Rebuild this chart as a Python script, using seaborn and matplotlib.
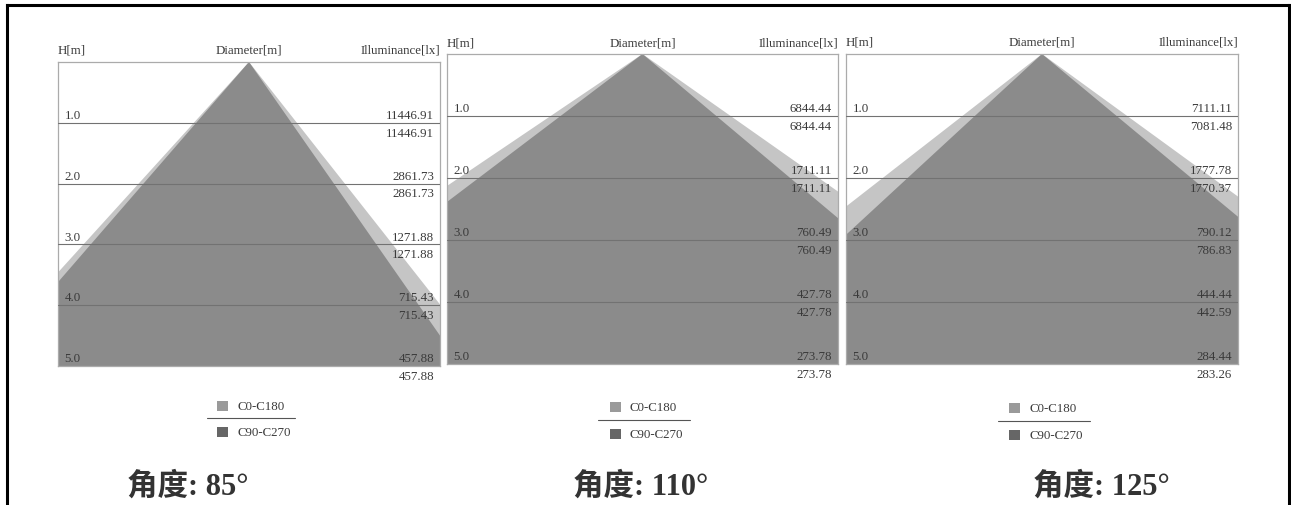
import matplotlib
matplotlib.use("Agg")
import matplotlib.pyplot as plt
from matplotlib.patches import Rectangle
from matplotlib.lines import Line2D
import numpy as np
import pandas as pd
import seaborn as sns

# ---------------- data ----------------
angles = [85, 110, 125]
heights = [1.0, 2.0, 3.0, 4.0, 5.0]
height_labels = ["1.0", "2.0", "3.0", "4.0", "5.0"]
lux_c0_c180 = [
    [11446.91, 2861.73, 1271.88, 715.43, 457.88],
    [6844.44, 1711.11, 760.49, 427.78, 273.78],
    [7111.11, 1777.78, 790.12, 444.44, 284.44],
]
lux_c90_c270 = [
    [11446.91, 2861.73, 1271.88, 715.43, 457.88],
    [6844.44, 1711.11, 760.49, 427.78, 273.78],
    [7081.48, 1770.37, 786.83, 442.59, 283.26],
]
# half-diameter per metre of height (left side, right side), read from the cones
spread_c0_c180 = [(0.91, 0.79), (1.48, 1.42), (1.28, 1.37)]
spread_c90_c270 = [(0.87, 0.70), (1.32, 1.19), (1.08, 1.20)]
series_names = ["C0-C180", "C90-C270"]

# ---------------- style ----------------
sns.set_theme(style="white")
plt.rcParams["font.family"] = ["Liberation Serif", "Noto Sans CJK SC", "DejaVu Sans"]

W, H = 1291, 506
fig = plt.figure(figsize=(W / 100, H / 100), dpi=100)
fig.patch.set_facecolor("white")


def fx(x):
    return x / W


def fy(y):
    return 1 - y / H


# panel boxes in pixel coordinates: left, top, right, bottom
boxes = [(58, 63, 440, 367), (447, 55, 838, 365), (846, 55, 1238, 365)]
header_gap = [8.8, 8.3, 9.3]
legend_pos = [(222.5, 407, 419, 433, 207, 295, 238),
              (615.5, 408, 421, 435, 598, 690, 630),
              (1014.5, 409, 422, 436, 998, 1090, 1029)]
title_x = [188, 641, 1101]

LIGHT = "#c5c5c5"
DARK = "#8b8b8b"
TXT = "#3a3a3a"
small = 9.3

for i, ang in enumerate(angles):
    l, t, r, b = boxes[i]
    ax = fig.add_axes([fx(l), fy(b), (r - l) / W, (b - t) / H])
    ax.set_xlim(-3.15, 3.15)
    ax.set_ylim(5.0, 0.0)
    ax.set_xticks([])
    ax.set_yticks([])
    for s in ax.spines.values():
        s.set_color("#ababab")
        s.set_linewidth(0.9)

    hmax = heights[-1]
    for spread, col, z in [(spread_c0_c180[i], LIGHT, 1), (spread_c90_c270[i], DARK, 2)]:
        cone = pd.DataFrame({
            "x": [0.0, -spread[0] * hmax * 2, spread[1] * hmax * 2],
            "h": [0.0, hmax * 2, hmax * 2],
        })
        ax.fill(cone["x"], cone["h"], color=col, lw=0, zorder=z)

    for h in heights[:-1]:
        ax.axhline(h, color="#727272", lw=0.8, zorder=3)

    for h, hl, a, c in zip(heights, height_labels, lux_c0_c180[i], lux_c90_c270[i]):
        ax.annotate(hl, xy=(0, h), xycoords=("axes fraction", "data"), xytext=(4.6, 1.3),
                    textcoords="offset points", ha="left", va="bottom", fontsize=small, color=TXT, zorder=5)
        ax.annotate(f"{a:.2f}", xy=(1, h), xycoords=("axes fraction", "data"), xytext=(-4.3, 1.3),
                    textcoords="offset points", ha="right", va="bottom", fontsize=small, color=TXT, zorder=5,
                    annotation_clip=False)
        ax.annotate(f"{c:.2f}", xy=(1, h), xycoords=("axes fraction", "data"), xytext=(-4.3, -2.8),
                    textcoords="offset points", ha="right", va="top", fontsize=small, color=TXT, zorder=5,
                    annotation_clip=False)

    # headers
    for txt, xa, ha in [("H[m]", 0.0, "left"), ("Diameter[m]", 0.5, "center"), ("Illuminance[lx]", 1.0, "right")]:
        ax.annotate(txt, xy=(xa, 1), xycoords="axes fraction", xytext=(0, header_gap[i]),
                    textcoords="offset points", ha=ha, va="center", fontsize=small, color=TXT,
                    annotation_clip=False)

    # legend
    sq, y1, ysep, y2, xs0, xs1, xt = legend_pos[i]
    for yy, col, name in [(y1, "#9a9a9a", series_names[0]), (y2, "#666666", series_names[1])]:
        fig.add_artist(Rectangle((fx(sq - 5.5), fy(yy + 5)), 11 / W, 10 / H, transform=fig.transFigure,
                                 facecolor=col, edgecolor="none"))
        fig.text(fx(xt), fy(yy), name, ha="left", va="center", fontsize=small, color=TXT)
    fig.add_artist(Line2D([fx(xs0), fx(xs1)], [fy(ysep), fy(ysep)], transform=fig.transFigure,
                          color="#555555", lw=0.8))

    # title
    fig.text(fx(title_x[i]), fy(487), f"角度: {ang}°", ha="center", va="center", fontsize=22,
             fontweight="bold", color="#333333")

# outer frame
for xs, ys in [([6.5, 6.5], [506, 5.5]), ([6.5, 1288.5], [5.5, 5.5]), ([1288.5, 1288.5], [5.5, 506])]:
    fig.add_artist(Line2D([fx(x) for x in xs], [fy(y) for y in ys], transform=fig.transFigure,
                          color="black", lw=2.2, solid_capstyle="projecting"))

fig.savefig("out.png", dpi=100, facecolor="white")
